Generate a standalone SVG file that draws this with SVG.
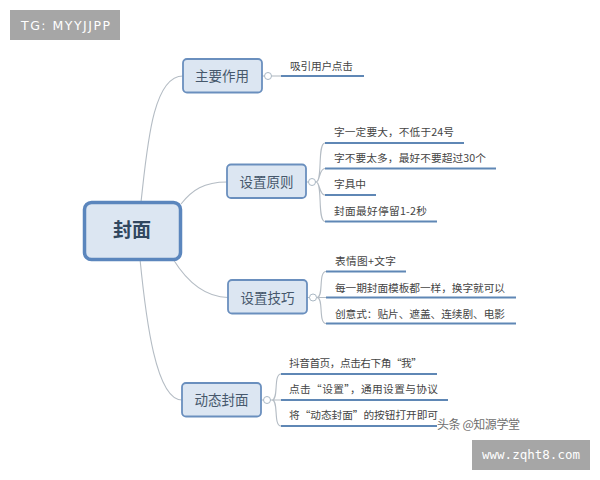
<svg xmlns="http://www.w3.org/2000/svg" width="600" height="480" viewBox="0 0 600 480">
<style>
text{font-family:"Noto Sans CJK SC","Liberation Sans",sans-serif}
.n{fill:#dce6f2;stroke:#6a8fbe;stroke-width:1.8}
.nt{font-size:13.500px;fill:#46586c;text-anchor:middle}
.t{font-size:10.700px;fill:#444;lengthAdjust:spacing}
.c{fill:none;stroke:#b4bcc4;stroke-width:1.1}
.u{fill:none;stroke:#5f87b5;stroke-width:2}
.k{fill:#fff;stroke:#aab8c4;stroke-width:1}
.wm{fill:#a6a6a6}
</style>
<rect width="600" height="480" fill="#fff"/>
<g id="connectors">
<path class="c" d="M141 202C147 150 152 76 183 76"/>
<path class="c" d="M181 204C192 190 204 182 227 182"/>
<path class="c" d="M140 259C146 320 156 400 182 400"/>
<path class="c" d="M173 259C186 280 204 297 228 297.500"/>
<path class="c" d="M262 76H281"/>
<path class="c" d="M306 182H316C323 182 317 143 325 143M316 182C320 182 319 168.500 325 168.500M316 182C320 182 319 195 325 195M316 182C323 182 317 221.500 325 221.500"/>
<path class="c" d="M307 297.500H317C324 297.500 318 271.500 326 271.500M317 297.500H326M317 297.500C324 297.500 318 323.500 326 323.500"/>
<path class="c" d="M261 400H272C279 400 273 374 281 374M272 400H281M272 400C279 400 273 426 281 426"/>
<path class="u" d="M281 76H364"/>
<path class="u" d="M325 143H464M325 168.500H496M325 195H376M325 221.500H437"/>
<path class="u" d="M326 271.500H406M326 297.500H516M326 323.500H516"/>
<path class="u" d="M281 374H437M281 400H448M281 426H437"/>
<circle class="k" cx="268" cy="76" r="3.500"/>
<circle class="k" cx="312" cy="182" r="3.500"/>
<circle class="k" cx="313" cy="297.500" r="3.500"/>
<circle class="k" cx="267" cy="400" r="3.500"/>
</g>
<g id="root"><rect x="84.500" y="202.500" width="96" height="57" rx="7" fill="#dce6f2" stroke="#5b86bd" stroke-width="3.500"/><text x="132" y="237" text-anchor="middle" font-size="19" font-weight="700" fill="#30475f">封面</text></g>
<g id="n1"><rect class="n" x="183" y="59" width="79" height="33.500" rx="4"/><text class="nt" x="222" y="81">主要作用</text></g>
<g id="n2"><rect class="n" x="227" y="164.500" width="79" height="33.500" rx="4"/><text class="nt" x="266.500" y="187">设置原则</text></g>
<g id="n3"><rect class="n" x="228" y="280" width="79" height="33.500" rx="4"/><text class="nt" x="267.500" y="303">设置技巧</text></g>
<g id="n4"><rect class="n" x="182" y="383" width="79" height="33.500" rx="4"/><text class="nt" x="221.500" y="405">动态封面</text></g>
<g id="l1"><text class="t" x="290" y="70" textLength="63">吸引用户点击</text></g>
<g id="l2"><text class="t" x="334" y="136" textLength="120">字一定要大，不低于24号</text></g>
<g id="l3"><text class="t" x="334" y="162" textLength="152">字不要太多，最好不要超过30个</text></g>
<g id="l4"><text class="t" x="334" y="188" textLength="32">字具中</text></g>
<g id="l5"><text class="t" x="334" y="215" textLength="93">封面最好停留1-2秒</text></g>
<g id="l6"><text class="t" x="335" y="265" textLength="61">表情图+文字</text></g>
<g id="l7"><text class="t" x="335" y="292" textLength="170">每一期封面模板都一样，换字就可以</text></g>
<g id="l8"><text class="t" x="335" y="318" textLength="170">创意式：贴片、遮盖、连续剧、电影</text></g>
<g id="l9"><text class="t" x="289" y="367" textLength="133">抖音首页，点击右下角“我”</text></g>
<g id="l10"><text class="t" x="289" y="393" textLength="149">点击“设置”，通用设置与协议</text></g>
<g id="l11"><text class="t" x="289" y="419" textLength="149">将“动态封面”的按钮打开即可</text></g>
<rect class="wm" x="10" y="10" width="110" height="30"/>
<text x="21" y="30" font-size="12.500" fill="#fff" style="font-family:'DejaVu Sans',sans-serif" textLength="89">TG: MYYJJPP</text>
<text x="437" y="429" font-size="12" fill="#555" opacity=".85" textLength="83">头条 @知源学堂</text>
<rect class="wm" x="472" y="440" width="118" height="30"/>
<text x="482" y="459" font-size="12.500" fill="#fff" style="font-family:'DejaVu Sans Mono',monospace" textLength="98">www.zqht8.com</text>
</svg>
